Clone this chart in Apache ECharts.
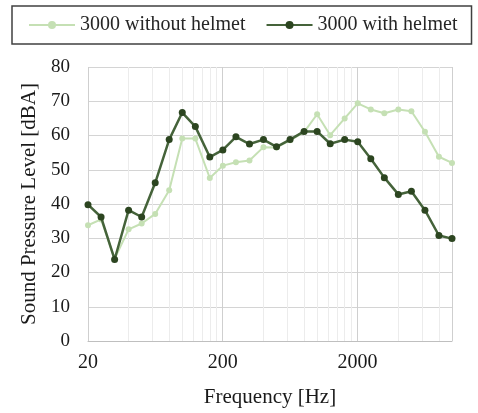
<!DOCTYPE html>
<html>
<head>
<meta charset="utf-8">
<script src="https://cdn.jsdelivr.net/npm/echarts@6/dist/echarts.min.js"></script>
<style>html,body{margin:0;padding:0;background:#fff}#c{width:478px;height:413px}</style>
</head>
<body>
<div id="c"></div>
<script>
const freqs = [20,25,31.5,40,50,63,80,100,125,160,200,250,315,400,500,630,800,1000,1250,1600,2000,2500,3150,4000,5000,6300,8000,10000];
const withoutHelmet = [33.8,35.5,24,32.6,34.3,37.1,44,59.1,59.1,47.6,51.2,52.2,52.7,56.6,56.5,58.6,61,66.2,60.1,65,69.4,67.6,66.5,67.6,67.1,61.1,53.8,52];
const withHelmet = [39.8,36.2,23.8,38.2,36.2,46.2,58.8,66.7,62.6,53.7,55.8,59.6,57.5,58.8,56.7,58.8,61.2,61.2,57.6,58.8,58.2,53.2,47.7,42.8,43.7,38.2,30.8,29.9];
const minorGrid = [40,60,80,100,120,140,160,180,400,600,800,1000,1200,1400,1600,1800,4000,6000,8000];
const yTicks = {min:0, max:80, interval:10};
const serif = 'Liberation Serif';

const chart = echarts.init(document.getElementById('c'));
chart.setOption({
  animation: false,
  backgroundColor: '#fff',
  legend: {
    left: 12, top: 6,
    padding: [9, 14, 9, 16],
    itemGap: 20, itemWidth: 46, itemHeight: 10,
    borderColor: '#404040', borderWidth: 1.5,
    textStyle: {fontFamily: serif, fontSize: 20, color: '#262626'}
  },
  grid: {left: 88, right: 26, top: 67, bottom: 69},
  xAxis: {
    type: 'log', logBase: 10, min: 20, max: 10000, interval: 1,
    name: 'Frequency [Hz]', nameLocation: 'middle', nameGap: 46,
    nameTextStyle: {fontFamily: serif, fontSize: 21, color: '#1a1a1a'},
    axisLine: {show: true, lineStyle: {color: '#bfbfbf', width: 1}},
    axisTick: {show: false},
    axisLabel: {fontFamily: serif, fontSize: 20, color: '#1a1a1a', margin: 12, showMaxLabel: false,
      formatter: v => String(Number(Number(v).toPrecision(2)))},
    splitLine: {show: true, lineStyle: {color: '#cfcfcf', width: 1}}
  },
  yAxis: {
    type: 'value', min: yTicks.min, max: yTicks.max, interval: yTicks.interval,
    name: 'Sound Pressure Level [dBA]', nameLocation: 'middle', nameGap: 46,
    nameTextStyle: {fontFamily: serif, fontSize: 21, color: '#1a1a1a'},
    axisLine: {show: false}, axisTick: {show: false},
    axisLabel: {fontFamily: serif, fontSize: 19, color: '#1a1a1a', margin: 18},
    splitLine: {show: true, lineStyle: {color: '#d4d4d4', width: 1}}
  },
  series: [
    {
      name: '3000 without helmet', type: 'line',
      data: freqs.map((f, i) => [f, withoutHelmet[i]]),
      symbol: 'circle', symbolSize: 6,
      lineStyle: {color: '#c5e0b4', width: 2},
      itemStyle: {color: '#c5e0b4'},
      markLine: {
        silent: true, symbol: 'none', label: {show: false},
        lineStyle: {color: '#ececec', width: 1, type: 'solid'},
        data: minorGrid.map(v => ({xAxis: v})),
        z: 0
      },
      z: 2
    },
    {
      name: '3000 with helmet', type: 'line',
      data: freqs.map((f, i) => [f, withHelmet[i]]),
      symbol: 'circle', symbolSize: 7,
      lineStyle: {color: '#45633a', width: 2.5},
      itemStyle: {color: '#2c4520'},
      z: 3
    }
  ]
});
</script>
</body>
</html>
